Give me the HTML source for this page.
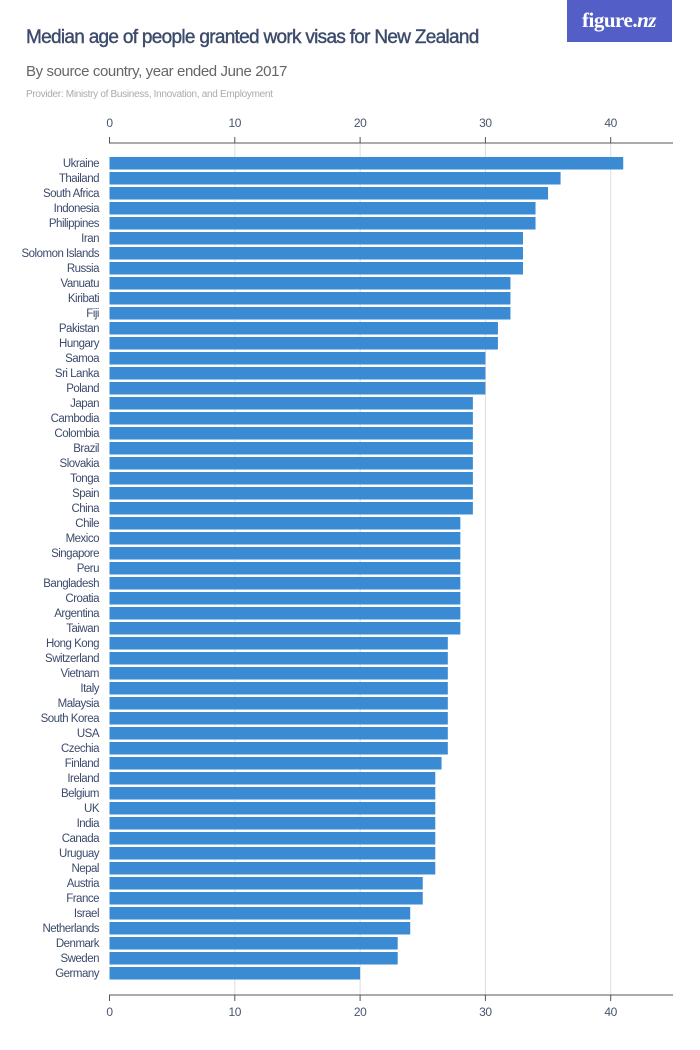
<!DOCTYPE html>
<html><head><meta charset="utf-8"><style>
html,body{margin:0;padding:0;background:#fff;}
body{width:700px;height:1050px;position:relative;overflow:hidden;font-family:"Liberation Sans",sans-serif;}
</style></head><body>
<svg id="c" width="700" height="1050" xmlns="http://www.w3.org/2000/svg" style="position:absolute;left:0;top:0">
<rect x="567" y="0" width="105" height="42" fill="#535fc6"/>
<text x="619" y="27" text-anchor="middle" font-family="Liberation Serif,serif" font-size="21" fill="#fff" font-weight="bold" letter-spacing="-0.5">figure.<tspan font-style="italic">nz</tspan></text>
<text x="26" y="43" font-size="19" fill="#3c4a6b" stroke="#3c4a6b" stroke-width="0.4" letter-spacing="-0.7">Median age of people granted work visas for New Zealand</text>
<text x="26" y="76" font-size="15" fill="#666" letter-spacing="-0.4">By source country, year ended June 2017</text>
<text x="26" y="97" font-size="10" fill="#aaa" letter-spacing="-0.3">Provider: Ministry of Business, Innovation, and Employment</text>
<g id="g"></g>
</svg>
<script>
var d=[["Ukraine",41],["Thailand",36],["South Africa",35],["Indonesia",34],["Philippines",34],["Iran",33],["Solomon Islands",33],["Russia",33],["Vanuatu",32],["Kiribati",32],["Fiji",32],["Pakistan",31],["Hungary",31],["Samoa",30],["Sri Lanka",30],["Poland",30],["Japan",29],["Cambodia",29],["Colombia",29],["Brazil",29],["Slovakia",29],["Tonga",29],["Spain",29],["China",29],["Chile",28],["Mexico",28],["Singapore",28],["Peru",28],["Bangladesh",28],["Croatia",28],["Argentina",28],["Taiwan",28],["Hong Kong",27],["Switzerland",27],["Vietnam",27],["Italy",27],["Malaysia",27],["South Korea",27],["USA",27],["Czechia",27],["Finland",26.5],["Ireland",26],["Belgium",26],["UK",26],["India",26],["Canada",26],["Uruguay",26],["Nepal",26],["Austria",25],["France",25],["Israel",24],["Netherlands",24],["Denmark",23],["Sweden",23],["Germany",20]];
var x0=109.5,k=12.53,s='';
for(var t=0;t<=40;t+=10){var x=x0+t*k;
 if(t>0)s+='<line x1="'+x+'" y1="143" x2="'+x+'" y2="995" stroke="#ddd" stroke-width="1"/>';
 s+='<text x="'+x+'" y="127" text-anchor="middle" font-size="12" fill="#4a5570" letter-spacing="-0.4">'+t+'</text>';
 s+='<text x="'+x+'" y="1016" text-anchor="middle" font-size="12" fill="#4a5570" letter-spacing="-0.4">'+t+'</text>';
 s+='<line x1="'+x+'" y1="995" x2="'+x+'" y2="1001" stroke="#555"/>';
 s+='<line x1="'+x+'" y1="143" x2="'+x+'" y2="137" stroke="#555"/>';}
s+='<line x1="109" y1="143" x2="673" y2="143" stroke="#555"/>';
s+='<line x1="109" y1="995" x2="673" y2="995" stroke="#555"/>';
for(var i=0;i<d.length;i++){var y=157+i*15;
 s+='<rect x="'+x0+'" y="'+y+'" width="'+(d[i][1]*k)+'" height="12.5" fill="#3a8ad4"/>';
 s+='<text x="99" y="'+(y+10)+'" text-anchor="end" font-size="11.5" fill="#3c4a6b" letter-spacing="-0.5">'+d[i][0]+'</text>';}
document.getElementById('g').innerHTML=s;
</script>
</body></html>
